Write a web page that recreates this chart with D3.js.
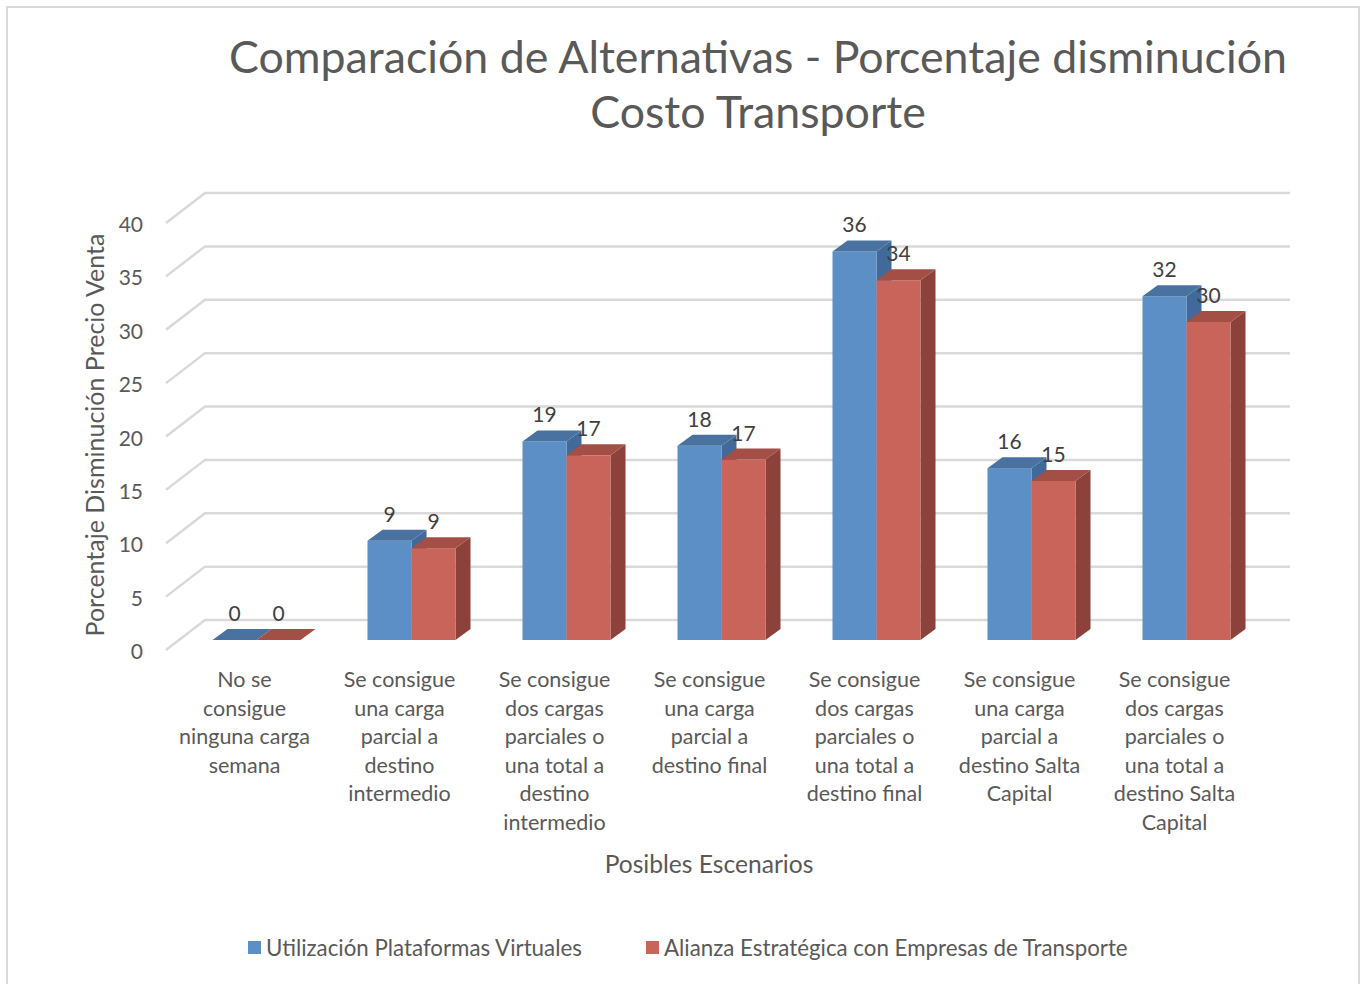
<!DOCTYPE html>
<html>
<head>
<meta charset="utf-8">
<script src="https://cdn.jsdelivr.net/npm/d3@7"></script>
<style>
  body { margin: 0; background: #fff; }
  text { font-family: Lato, "Open Sans", sans-serif; fill: #595959; }
</style>
</head>
<body>
<div id="chart"></div>
<script>
// categorías (líneas tal como se ven en el eje)
const categories = [
    ["No se", "consigue", "ninguna carga", "semana"],
    ["Se consigue", "una carga", "parcial a", "destino", "intermedio"],
    ["Se consigue", "dos cargas", "parciales o", "una total a", "destino", "intermedio"],
    ["Se consigue", "una carga", "parcial a", "destino final"],
    ["Se consigue", "dos cargas", "parciales o", "una total a", "destino final"],
    ["Se consigue", "una carga", "parcial a", "destino Salta", "Capital"],
    ["Se consigue", "dos cargas", "parciales o", "una total a", "destino Salta", "Capital"]
];

const seriesNames = ["Utilización Plataformas Virtuales", "Alianza Estratégica con Empresas de Transporte"];
const plataformas = [0, 9.3, 18.6, 18.2, 36.4, 16.1, 32.2];
const alianza = [0, 8.6, 17.3, 16.9, 33.7, 14.9, 29.8];
const yTicks = [0, 5, 10, 15, 20, 25, 30, 35, 40];

const titleLines = ["Comparación de Alternativas - Porcentaje disminución", "Costo Transporte"];
const yTitle = "Porcentaje Disminución Precio Venta";
const xTitle = "Posibles Escenarios";

const width = 1361, height = 984;

// colores: frente, arriba, costado
const colors = [
    {front: "#5b8fc5", top: "#4a72a0", side: "#41699a"},
    {front: "#c9645a", top: "#a34f46", side: "#8c413a"}
];

const svg = d3.select("#chart")
    .append("svg")
    .attr("width", width)
    .attr("height", height);

// borde del gráfico
svg.append("rect")
    .attr("x", 7).attr("y", 7)
    .attr("width", 1352).attr("height", 990)
    .attr("fill", "none")
    .attr("stroke", "#d9d9d9")
    .attr("stroke-width", 2);

// plano frontal + profundidad
const x = d3.scaleBand()
    .domain(d3.range(categories.length))
    .range([166, 1251]);

const y = d3.scaleLinear()
    .domain([0, 40])
    .range([650, 223]);

const depthX = 39, depthY = -30;      // profundidad del piso
const barOffX = 13, barOffY = -10;    // posición de la cara frontal de la barra
const barDX = 15, barDY = -11;        // espesor de la barra

const x1 = d3.scaleBand()
    .domain([0, 1])
    .range([0, 88]);

/* Líneas de la grilla */
svg.selectAll(".grid-line")
    .data(yTicks)
    .enter().append("polyline")
    .attr("class", "grid-line")
    .attr("points", function(d) {
        return [
            [166, y(d)],
            [166 + depthX, y(d) + depthY],
            [1290, y(d) + depthY]
        ].join(" ");
    })
    .attr("fill", "none")
    .attr("stroke", "#d9d9d9")
    .attr("stroke-width", 2.5);

/* Etiquetas eje Y */
svg.selectAll(".y-label")
    .data(yTicks)
    .enter().append("text")
    .attr("class", "y-label")
    .attr("x", 143)
    .attr("y", function(d) { return y(d) + 9; })
    .attr("text-anchor", "end")
    .style("font-size", "21px")
    .text(function(d) { return d; });

/* Barras */
const rows = [];
categories.forEach(function(c, i) {
    [plataformas, alianza].forEach(function(vals, s) {
        rows.push({cat: i, s: s, value: vals[i]});
    });
});

function frontX(d) { return x(d.cat) + (x.bandwidth() - 88) / 2 + barOffX + x1(d.s); }
function frontTop(d) { return y(d.value) + barOffY; }
const bottom = y(0) + barOffY;

const bars = svg.selectAll(".bar")
    .data(rows)
    .enter().append("g")
    .attr("class", "bar");

bars.append("polygon")
    .attr("points", function(d) {
        const x0 = frontX(d) + x1.bandwidth(), yt = frontTop(d);
        return [[x0, yt], [x0 + barDX, yt + barDY], [x0 + barDX, bottom + barDY], [x0, bottom]].join(" ");
    })
    .attr("fill", function(d) { return colors[d.s].side; });

bars.append("rect")
    .attr("x", frontX)
    .attr("y", frontTop)
    .attr("width", x1.bandwidth())
    .attr("height", function(d) { return bottom - frontTop(d); })
    .attr("fill", function(d) { return colors[d.s].front; });

bars.append("polygon")
    .attr("points", function(d) {
        const x0 = frontX(d), w = x1.bandwidth(), yt = frontTop(d);
        return [[x0, yt], [x0 + w, yt], [x0 + w + barDX, yt + barDY], [x0 + barDX, yt + barDY]].join(" ");
    })
    .attr("fill", function(d) { return colors[d.s].top; });

/* Valores */
svg.selectAll(".value-label")
    .data(rows)
    .enter().append("text")
    .attr("class", "value-label")
    .attr("x", function(d) { return frontX(d) + x1.bandwidth() / 2; })
    .attr("y", function(d) { return frontTop(d) - 19; })
    .attr("text-anchor", "middle")
    .style("font-size", "21px")
    .style("fill", "#404040")
    .text(function(d) { return Math.round(d.value); });

/* Categorías */
const catLabels = svg.selectAll(".cat-label")
    .data(categories)
    .enter().append("text")
    .attr("class", "cat-label")
    .attr("text-anchor", "middle")
    .style("font-size", "21.5px");

catLabels.selectAll("tspan")
    .data(function(d, i) { return d.map(function(t) { return {t: t, i: i}; }); })
    .enter().append("tspan")
    .attr("x", function(d) { return x(d.i) + x.bandwidth() / 2 + 1; })
    .attr("y", function(d, j) { return 687 + j * 28.6; })
    .text(function(d) { return d.t; });

/* Títulos */
svg.selectAll(".title")
    .data(titleLines)
    .enter().append("text")
    .attr("class", "title")
    .attr("x", 758)
    .attr("y", function(d, i) { return 73 + i * 55; })
    .attr("text-anchor", "middle")
    .style("font-size", "44.7px")
    .text(function(d) { return d; });

svg.append("text")
    .attr("transform", "translate(104,435) rotate(-90)")
    .attr("text-anchor", "middle")
    .style("font-size", "25px")
    .text(yTitle);

svg.append("text")
    .attr("x", 709)
    .attr("y", 873)
    .attr("text-anchor", "middle")
    .style("font-size", "24.6px")
    .text(xTitle);

/* Leyenda */
const legendX = [248, 646];
const legend = svg.selectAll(".legend")
    .data(seriesNames)
    .enter().append("g")
    .attr("class", "legend")
    .attr("transform", function(d, i) { return "translate(" + legendX[i] + ",941)"; });

legend.append("rect")
    .attr("width", 13)
    .attr("height", 13)
    .attr("fill", function(d, i) { return colors[i].front; });

legend.append("text")
    .attr("x", 18)
    .attr("y", 15)
    .style("font-size", "22.3px")
    .text(function(d) { return d; });
</script>
</body>
</html>
